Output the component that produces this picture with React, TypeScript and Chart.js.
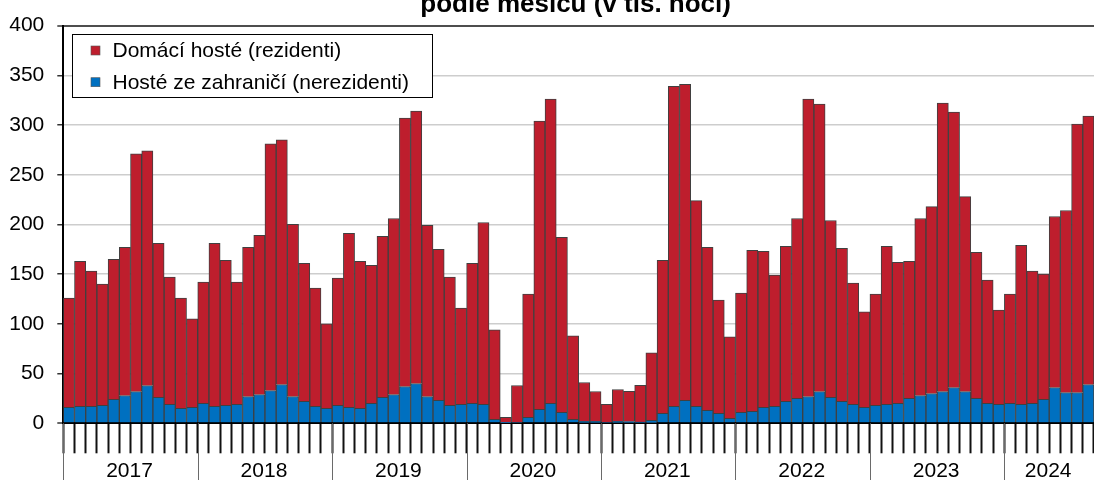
import React, { useEffect, useRef } from 'react';
import { Chart, registerables } from 'chart.js';

Chart.register(...registerables);

const FONT = '"Liberation Sans", Arial, Helvetica, sans-serif';

const TITLE = 'podle měsíců (v tis. nocí)';
const YEARS = ['2017', '2018', '2019', '2020', '2021', '2022', '2023', '2024'];
const MONTHS_PER_YEAR = [12, 12, 12, 12, 12, 12, 12, 8];
const MONTHS = ['01', '02', '03', '04', '05', '06', '07', '08', '09', '10', '11', '12'];
const CATEGORIES = YEARS.flatMap((y, i) => MONTHS.slice(0, MONTHS_PER_YEAR[i]).map((m) => `${y}-${m}`));

const LABEL_DOMESTIC = 'Domácí hosté (rezidenti)';
const LABEL_FOREIGN = 'Hosté ze zahraničí (nerezidenti)';

// thousands of nights, residents
const DOMESTIC = [
  110, 146, 136, 122, 141, 149, 239, 236, 155, 128, 111, 89, // 2017
  122, 164, 146, 123, 150, 160, 248, 246, 173, 139, 119, 85, // 2018
  128, 175, 148, 139, 162, 177, 270, 274, 172, 152, 129, 97, // 2019
  141, 183, 90, 5.5, 37, 124, 290, 306, 176, 84, 39, 30, // 2020
  18, 32, 30.5, 37, 68, 154, 322, 318, 207, 164, 114, 82, // 2021
  120, 162, 157, 132, 156, 181, 299, 289, 178, 154, 122, 96, // 2022
  112, 159, 142, 138, 178, 188, 290, 277, 196, 147, 124, 95, // 2023
  110, 160, 133, 126, 172, 183, 270, 270, // 2024
];

// thousands of nights, non-residents
const FOREIGN = [
  16, 17, 17, 18, 24, 28, 32, 38, 26, 19, 15, 16, // 2017
  20, 17, 18, 19, 27, 29, 33, 39, 27, 22, 17, 15, // 2018
  18, 16, 15, 20, 26, 29, 37, 40, 27, 23, 18, 19, // 2019
  20, 19, 4, 0.5, 1, 6, 14, 20, 11, 4, 2, 2, // 2020
  1, 2, 1.7, 1.3, 3, 10, 17, 23, 17, 13, 10, 5, // 2021
  11, 12, 16, 17, 22, 25, 27, 32, 26, 22, 19, 16, // 2022
  18, 19, 20, 25, 28, 30, 32, 36, 32, 25, 20, 19, // 2023
  20, 19, 20, 24, 36, 31, 31, 39, // 2024
];

const Y_MIN = 0;
const Y_MAX = 400;
const Y_STEP = 50;

const RED = '#BE1E2D';
const BLUE = '#0070C0';
const BORDER = '#404040';

const overlayPlugin = {
  id: 'overlay',
  afterDraw(chart: any) {
    const { ctx, chartArea: ca } = chart;
    const x = chart.scales.x;
    ctx.save();

    // title (partly cut at the top as in the source)
    ctx.font = `bold 26px ${FONT}`;
    ctx.fillStyle = '#000';
    ctx.textAlign = 'center';
    ctx.textBaseline = 'alphabetic';
    ctx.fillText(TITLE, (ca.left + ca.right) / 2 - 3, 11.7);

    // year separators and labels
    const half = (x.getPixelForValue(1) - x.getPixelForValue(0)) / 2;
    let idx = 0;
    ctx.font = `21px ${FONT}`;
    ctx.textBaseline = 'middle';
    YEARS.forEach((yr, i) => {
      const n = MONTHS_PER_YEAR[i];
      const start = x.getPixelForValue(idx) - half;
      const end = x.getPixelForValue(idx + n - 1) + half;
      const lx = Math.round(start) + 0.5;
      ctx.strokeStyle = '#6a6a6a';
      ctx.lineWidth = 1;
      ctx.beginPath();
      ctx.moveTo(lx, ca.bottom);
      ctx.lineTo(lx, chart.height);
      ctx.stroke();
      ctx.fillStyle = '#000';
      ctx.fillText(yr, (start + end) / 2 - 1, 471);
      idx += n;
    });

    // legend box
    const bx = Math.round(ca.left + 8.5) + 0.5;
    const by = Math.round(ca.top + 8) + 0.5;
    const bw = 360;
    const bh = 63;
    ctx.fillStyle = '#fff';
    ctx.fillRect(bx, by, bw, bh);
    ctx.strokeStyle = '#000';
    ctx.lineWidth = 1;
    ctx.strokeRect(bx, by, bw, bh);
    const items = [
      { label: LABEL_DOMESTIC, color: RED },
      { label: LABEL_FOREIGN, color: BLUE },
    ];
    ctx.font = `21px ${FONT}`;
    ctx.textAlign = 'left';
    ctx.textBaseline = 'alphabetic';
    items.forEach((it, i) => {
      const baseY = by + 22.5 + i * 31.7;
      ctx.fillStyle = it.color;
      ctx.fillRect(bx + 18.5, baseY - 11, 9, 9);
      ctx.strokeStyle = '#555';
      ctx.lineWidth = 0.6;
      ctx.strokeRect(bx + 18.5, baseY - 11, 9, 9);
      ctx.fillStyle = '#000';
      ctx.fillText(it.label, bx + 40, baseY);
    });
    ctx.restore();
  },
};

export default function App() {
  const ref = useRef<HTMLCanvasElement | null>(null);

  useEffect(() => {
    if (!ref.current) return;
    const chart = new Chart(ref.current, {
      type: 'bar',
      data: {
        labels: CATEGORIES,
        datasets: [
          {
            label: LABEL_FOREIGN,
            data: FOREIGN,
            backgroundColor: BLUE,
            borderColor: BORDER,
            borderWidth: 1,
            barPercentage: 1,
            categoryPercentage: 1,
            stack: 's',
          },
          {
            label: LABEL_DOMESTIC,
            data: DOMESTIC,
            backgroundColor: RED,
            borderColor: BORDER,
            borderWidth: 1,
            barPercentage: 1,
            categoryPercentage: 1,
            stack: 's',
          },
        ],
      },
      options: {
        responsive: false,
        animation: false,
        events: [],
        layout: { padding: { top: 21.5, right: 0, left: 0, bottom: 0 } },
        plugins: {
          legend: { display: false },
          title: { display: false },
          tooltip: { enabled: false },
        },
        scales: {
          x: {
            stacked: true,
            offset: true,
            ticks: { display: false, autoSkip: false },
            grid: {
              display: true,
              offset: true,
              drawOnChartArea: false,
              drawTicks: true,
              tickLength: 30,
              tickColor: '#111',
              tickWidth: 2,
            },
            border: { display: true, color: '#000', width: 2 },
            afterFit: (s: any) => {
              s.height = 56.7;
            },
          },
          y: {
            stacked: true,
            min: Y_MIN,
            max: Y_MAX,
            ticks: {
              stepSize: Y_STEP,
              color: '#000',
              padding: 13,
              font: { family: FONT, size: 21 },
            },
            grid: {
              color: (c: any) => (c.tick && c.tick.value === 0 ? '#000' : c.tick && c.tick.value === Y_MAX ? '#4d4d4d' : '#cdcdcd'),
              lineWidth: (c: any) => (c.tick && (c.tick.value === 0 || c.tick.value === Y_MAX) ? 2 : 1.5),
              drawTicks: true,
              tickLength: 6,
              tickColor: '#333',
              tickWidth: 1.5,
            },
            border: { display: true, color: '#000', width: 2 },
            afterFit: (s: any) => {
              s.width = 63.3;
            },
          },
        },
      },
      plugins: [overlayPlugin],
    });
    return () => chart.destroy();
  }, []);

  return (
    <div style={{ position: 'fixed', left: 0, top: 0, width: 1094, height: 480, background: '#fff' }}>
      <canvas ref={ref} width={1094} height={480} style={{ display: 'block' }} />
    </div>
  );
}
